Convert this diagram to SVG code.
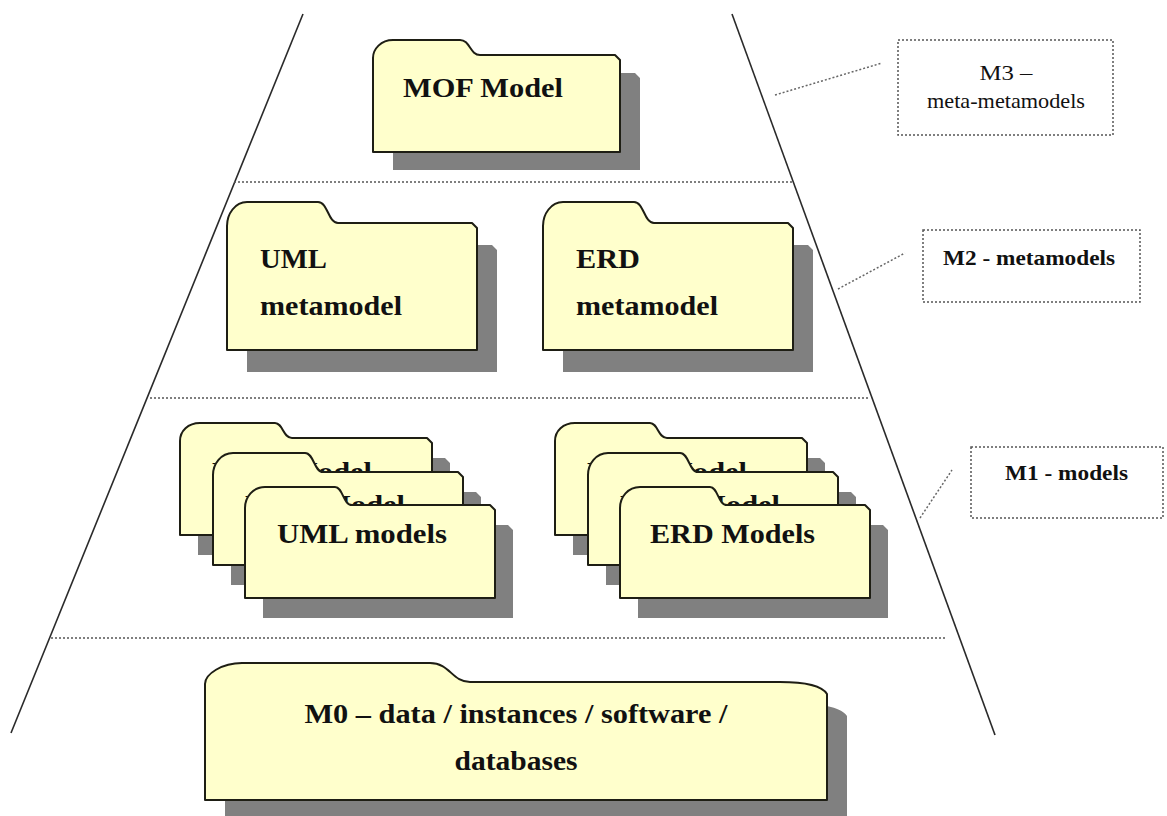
<svg xmlns="http://www.w3.org/2000/svg" xmlns:xlink="http://www.w3.org/1999/xlink" width="1167" height="816" viewBox="0 0 1167 816">
<style>
.folder{fill:#FFFFCC;stroke:#1e1e14;stroke-width:2;stroke-linejoin:round}
.shadow{fill:#808080;stroke:none}
.ft{font-family:"Liberation Serif","Times New Roman",serif;font-weight:bold;font-size:28px;fill:#111}
.lt{font-family:"Liberation Serif","Times New Roman",serif;font-size:21px;fill:#111}
.ltb{font-family:"Liberation Serif","Times New Roman",serif;font-weight:bold;font-size:21px;fill:#111}
.side{fill:none;stroke:#2a2a2a;stroke-width:1.6}
.sep{fill:none;stroke:#555;stroke-width:1.5;stroke-dasharray:2 2}
.box{fill:#fff;stroke:#555;stroke-width:1.5;stroke-dasharray:2 2}
.lead{fill:none;stroke:#666;stroke-width:1.5;stroke-dasharray:2 2}
</style>
<defs>
<path id="p-mof" d="M373,152 V58 C373,49 381,40 393,40 H460 C470,40 470,55 480,55 H615 L620,60 V152 Z"/>
<path id="p-umlmeta" d="M227,350 V226 C227,214 235,202 247,202 H318 C328,202 328,223 338,223 H472 L477,228 V350 Z"/>
<path id="p-erdmeta" d="M543,350 V226 C543,214 551,202 563,202 H634 C644,202 644,223 654,223 H788 L793,228 V350 Z"/>
<path id="p-back" d="M180,535 V441 C180,431 188,423 200,423 H275 C283,423 283,438 292,438 H427 L432,443 V535 Z"/>
<path id="p-mid" d="M213,565 V475 C213,464 221,453 233,453 H305 C314,453 314,472 323,472 H458 L463,477 V565 Z"/>
<path id="p-front" d="M245,598 V508 C245,497 253,487 265,487 H335 C343,487 343,505 352,505 H490 L495,510 V598 Z"/>
<path id="p-m0" d="M205,800 V684 C205,674 222,663 242,663 H430 C450,663 452,682 470,682 H780 C805,682 822,686 827,694 V800 Z"/>
</defs>

<g id="structure">
<line class="side" x1="303" y1="14" x2="11" y2="733"/>
<line class="side" x1="732" y1="14" x2="995" y2="735"/>
<line class="sep" x1="234" y1="182" x2="792" y2="182"/>
<line class="sep" x1="150" y1="398" x2="868" y2="398"/>
<line class="sep" x1="51" y1="638" x2="947" y2="638"/>
</g>

<g id="connectors">
<line class="lead" x1="775" y1="95" x2="882" y2="63"/>
<line class="lead" x1="838" y1="289" x2="905" y2="253"/>
<line class="lead" x1="920" y1="518" x2="952" y2="470"/>
</g>

<g id="mof-model">
<use xlink:href="#p-mof" href="#p-mof" class="shadow" transform="translate(20,18)"/>
<use xlink:href="#p-mof" href="#p-mof" class="folder"/>
<text class="ft" x="403" y="97" textLength="160" lengthAdjust="spacingAndGlyphs">MOF Model</text>
</g>

<g id="uml-metamodel">
<use xlink:href="#p-umlmeta" href="#p-umlmeta" class="shadow" transform="translate(20,22)"/>
<use xlink:href="#p-umlmeta" href="#p-umlmeta" class="folder"/>
<text class="ft" x="260" y="268" textLength="67" lengthAdjust="spacingAndGlyphs">UML</text>
<text class="ft" x="260" y="315" textLength="142" lengthAdjust="spacingAndGlyphs">metamodel</text>
</g>

<g id="erd-metamodel">
<use xlink:href="#p-erdmeta" href="#p-erdmeta" class="shadow" transform="translate(20,22)"/>
<use xlink:href="#p-erdmeta" href="#p-erdmeta" class="folder"/>
<text class="ft" x="576" y="268" textLength="64" lengthAdjust="spacingAndGlyphs">ERD</text>
<text class="ft" x="576" y="315" textLength="142" lengthAdjust="spacingAndGlyphs">metamodel</text>
</g>

<g id="uml-models">
<use xlink:href="#p-back" href="#p-back" class="shadow" transform="translate(18,20)"/>
<use xlink:href="#p-back" href="#p-back" class="folder"/>
<text class="ft" x="212" y="481" textLength="160" lengthAdjust="spacingAndGlyphs">MOF Model</text>
<use xlink:href="#p-mid" href="#p-mid" class="shadow" transform="translate(18,20)"/>
<use xlink:href="#p-mid" href="#p-mid" class="folder"/>
<text class="ft" x="245" y="514" textLength="160" lengthAdjust="spacingAndGlyphs">MOF Model</text>
<use xlink:href="#p-front" href="#p-front" class="shadow" transform="translate(18,20)"/>
<use xlink:href="#p-front" href="#p-front" class="folder"/>
<text class="ft" x="277" y="543" textLength="170" lengthAdjust="spacingAndGlyphs">UML models</text>
</g>

<g id="erd-models" transform="translate(375,0)">
<use xlink:href="#p-back" href="#p-back" class="shadow" transform="translate(18,20)"/>
<use xlink:href="#p-back" href="#p-back" class="folder"/>
<text class="ft" x="212" y="481" textLength="160" lengthAdjust="spacingAndGlyphs">MOF Model</text>
<use xlink:href="#p-mid" href="#p-mid" class="shadow" transform="translate(18,20)"/>
<use xlink:href="#p-mid" href="#p-mid" class="folder"/>
<text class="ft" x="245" y="514" textLength="160" lengthAdjust="spacingAndGlyphs">MOF Model</text>
<use xlink:href="#p-front" href="#p-front" class="shadow" transform="translate(18,20)"/>
<use xlink:href="#p-front" href="#p-front" class="folder"/>
<text class="ft" x="275" y="543" textLength="165" lengthAdjust="spacingAndGlyphs">ERD Models</text>
</g>

<g id="m0">
<use xlink:href="#p-m0" href="#p-m0" class="shadow" transform="translate(20,22)"/>
<use xlink:href="#p-m0" href="#p-m0" class="folder"/>
<text class="ft" x="516" y="723" text-anchor="middle" textLength="423" lengthAdjust="spacingAndGlyphs">M0 – data / instances / software /</text>
<text class="ft" x="516" y="770" text-anchor="middle" textLength="123" lengthAdjust="spacingAndGlyphs">databases</text>
</g>

<g id="label-m3">
<rect class="box" x="898" y="40" width="215" height="95"/>
<text class="lt" x="1006" y="80" text-anchor="middle" textLength="53" lengthAdjust="spacingAndGlyphs">M3 –</text>
<text class="lt" x="1006" y="108" text-anchor="middle" textLength="158" lengthAdjust="spacingAndGlyphs">meta-metamodels</text>
</g>

<g id="label-m2">
<rect class="box" x="923" y="230" width="217" height="72"/>
<text class="ltb" x="943" y="265" textLength="172" lengthAdjust="spacingAndGlyphs">M2 - metamodels</text>
</g>

<g id="label-m1">
<rect class="box" x="971" y="447" width="192" height="71"/>
<text class="ltb" x="1005" y="480" textLength="123" lengthAdjust="spacingAndGlyphs">M1 - models</text>
</g>
</svg>
